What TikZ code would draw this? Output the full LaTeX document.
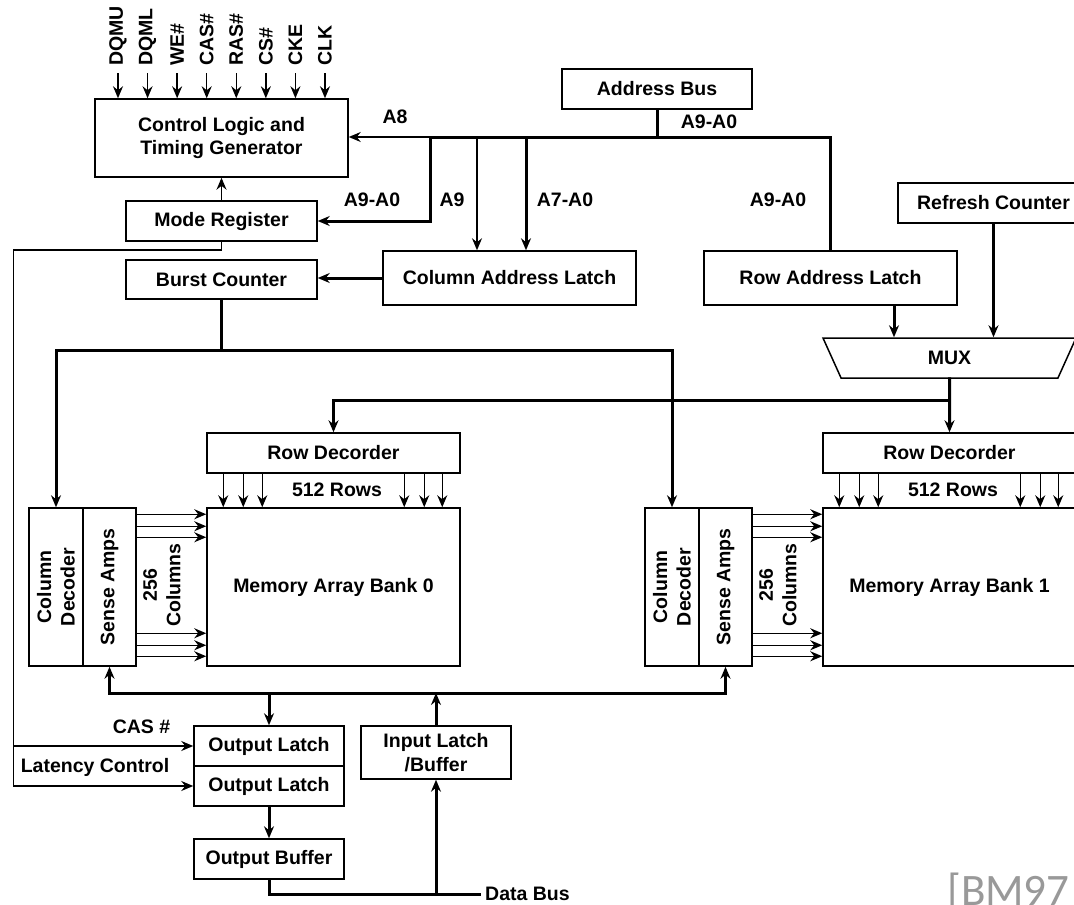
\documentclass[tikz,border=0pt]{standalone}
\usepackage{fontspec}
\setmainfont{Liberation Sans}
\newfontfamily\notefont{Carlito}
\usetikzlibrary{arrows.meta,positioning,shapes.geometric}

\begin{document}
\begin{tikzpicture}[
    x=1pt, y=-1pt,
    font=\bfseries\fontsize{19.5}{23.5}\selectfont,
    blk/.style={draw, line width=1.5pt, fill=white, align=center, inner sep=0pt},
    vtxt/.style={rotate=90, align=center, inner sep=0pt},
    lbl/.style={inner sep=0pt},
    bus/.style={line width=3pt, line cap=rect},
    sig/.style={line width=1.5pt},
    arr/.style={-{Stealth[length=12pt, width=10pt, inset=4pt]}},
    arrs/.style={{Stealth[length=12pt, width=10pt, inset=4pt]}-{Stealth[length=12pt, width=10pt, inset=4pt]}},
]
    \useasboundingbox (0,0) rectangle (1074,905);

    % control and address side
    \node[blk, minimum width=253pt, minimum height=78pt] (ctl) at (221.5,138)
        {Control Logic and\\Timing Generator};
    \node[blk, minimum width=191pt, minimum height=40pt] (mode) at (221.5,221) {Mode Register};
    \node[blk, minimum width=191pt, minimum height=39pt] (burst) at (221.5,279.5) {Burst Counter};
    \node[blk, minimum width=190pt, minimum height=40pt] (addr) at (657,89) {Address Bus};
    \node[blk, minimum width=253pt, minimum height=54pt] (cal) at (509.5,278) {Column Address Latch};
    \node[blk, minimum width=253pt, minimum height=54pt] (ral) at (830.5,278) {Row Address Latch};
    \node[blk, minimum width=191pt, minimum height=40pt] (rfc) at (993.5,203) {Refresh Counter};
    \node[blk, trapezium, trapezium angle=37, shape border rotate=180, trapezium stretches body,
        minimum width=253pt, minimum height=40pt] (mux) at (949.5,358) {MUX};

    \foreach \pin [count=\i] in {DQMU,DQML,WE\#,CAS\#,RAS\#,CS\#,CKE,CLK} {
        \node[vtxt, anchor=west, inner xsep=7pt] (pin\i) at (88.43+29.57*\i,73) {\pin};
        \draw[sig,arr] (pin\i.west) -- (pin\i.west |- ctl.north);
    }

    \node[lbl] (a8) at (395,117) {A8};
    \node[lbl] (amode) at (372,200) {A9-A0};
    \node[lbl] (a9) at (452,200) {A9};
    \node[lbl] (acol) at (565,200) {A7-A0};
    \node[lbl] (abus) at (709,122) {A9-A0};
    \node[lbl] (arow) at (778,200) {A9-A0};

    % memory banks
    \foreach \b/\dx in {0/0,1/616} {
        \node[blk, minimum width=253pt, minimum height=40pt] (rd\b) at (333.5+\dx,453) {Row Decorder};
        \node[blk, minimum width=253pt, minimum height=158pt] (mem\b) at (333.5+\dx,587) {Memory Array Bank \b};
        \node[blk, minimum width=54pt, minimum height=158pt] (cd\b) at (56+\dx,587) {};
        \node[blk, minimum width=53pt, minimum height=158pt] (sa\b) at (109.5+\dx,587) {};
        \node[vtxt] (cdt\b) at (cd\b) {Column\\Decoder};
        \node[vtxt] (sat\b) at (sa\b) {Sense Amps};
        \node[vtxt] (colt\b) at (162+\dx,585) {256\\Columns};
        \node[lbl] (rowt\b) at (337+\dx,490) {512 Rows};
        \foreach \r in {17,37,56,198,218,236}
            \draw[sig,arr] ([xshift=\r pt]rd\b.south west) -- ([xshift=\r pt]rd\b.south west |- mem\b.north);
        \foreach \c in {7,19,30,126,138,149}
            \draw[sig,arr] ([yshift=-\c pt]sa\b.north east) -- ([yshift=-\c pt]sa\b.north east -| mem\b.west);
    }

    % output side
    \node[blk, minimum width=150pt, minimum height=40pt] (ol1) at (269,746) {Output Latch};
    \node[blk, minimum width=150pt, minimum height=40pt] (ol2) at (269,786) {Output Latch};
    \node[blk, minimum width=150pt, minimum height=40pt] (ob) at (269,859) {Output Buffer};
    \node[blk, minimum width=150pt, minimum height=53pt] (ilb) at (436,752.5) {Input Latch\\/Buffer};
    \node[lbl, anchor=west, inner xsep=6pt] (dbl) at (479,894) {Data Bus};
    \node[lbl] (cas) at (141.5,727) {CAS \#};
    \node[lbl] (latc) at (95,767) {Latency Control};
    \node[anchor=base west, inner sep=0pt, text=black!40, font=\notefont\fontsize{45}{45}\selectfont]
        (cite) at (947,905) {[BM97};

    \coordinate (aleft) at (430,137);
    \coordinate (cbus) at (221.5,350);
    \coordinate (rbus) at (949.5,400);
    \coordinate (lat) at (13.5,250);
    \coordinate (dq) at (269,693);

    % connectors
    \draw[bus] (addr.south) -- (addr.south |- aleft);
    \draw[bus,arr] (ral.north) |- (aleft) |- (mode.east);
    \draw[sig,arr] (aleft) -- (aleft -| ctl.east);
    \draw[sig,arr] ([xshift=-32.5pt]cal.north |- aleft) -- ([xshift=-32.5pt]cal.north);
    \draw[bus,arr] ([xshift=16.5pt]cal.north |- aleft) -- ([xshift=16.5pt]cal.north);
    \draw[bus,arr] (cal.west) -- (cal.west -| burst.east);
    \draw[sig,arr] (mode.north) -- (ctl.south);
    \draw[bus,arr] ([xshift=63.5pt]ral.south) -- ([xshift=63.5pt]ral.south |- mux.north);
    \draw[bus,arr] (rfc.south) -- (rfc.south |- mux.north);
    \draw[bus,arr] (mux.south) -- (rd1.north);
    \draw[bus,arr] (rbus) -| (rd0.north);
    \draw[bus] (burst.south) -- (cbus);
    \draw[bus,arr] (cbus -| cd0.north) -| (cd1.north);
    \draw[bus,arr] (cbus -| cd0.north) -- (cd0.north);
    \draw[sig,arr] (mode.south) |- (lat) |- (ol2.west);
    \draw[sig,arr] (lat |- ol1.west) -- (ol1.west);
    \draw[bus,arrs] (sa0.south) |- (dq) -| (sa1.south);
    \draw[bus,arr] (dq) -- (ol1.north);
    \draw[bus,arr] (ilb.north) -- (ilb.north |- dq);
    \draw[bus,arr] (ol2.south) -- (ob.north);
    \draw[bus] (ob.south) |- (dbl.west);
    \draw[bus,arr] (ilb.south |- dbl.west) -- (ilb.south);
\end{tikzpicture}
\end{document}
